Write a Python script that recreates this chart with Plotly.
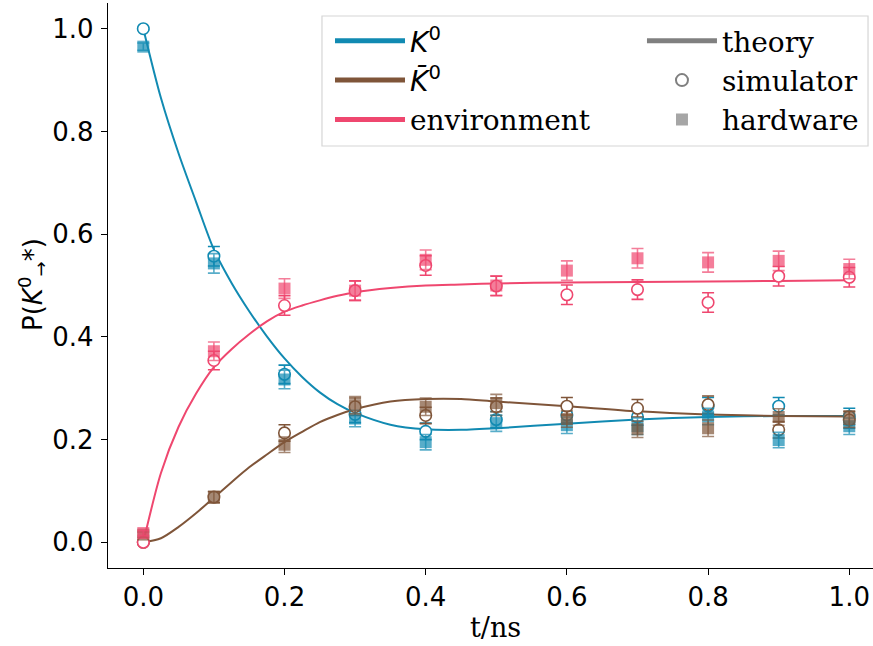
import plotly.graph_objects as go

# ---------------- data ----------------
t_meas = [0.0, 0.1, 0.2, 0.3, 0.4, 0.5, 0.6, 0.7, 0.8, 0.9, 1.0]

sim_k0 = [1.000, 0.557, 0.327, 0.249, 0.216, 0.239, 0.248, 0.244, 0.265, 0.265, 0.245]
sim_k0bar = [0.000, 0.088, 0.213, 0.264, 0.247, 0.264, 0.265, 0.261, 0.268, 0.219, 0.238]
sim_env = [0.000, 0.354, 0.461, 0.490, 0.539, 0.499, 0.482, 0.492, 0.467, 0.518, 0.516]

sim_err_k0 = [0.002, 0.019, 0.018, 0.016, 0.016, 0.016, 0.016, 0.016, 0.017, 0.017, 0.016]
sim_err_k0bar = [0.002, 0.011, 0.016, 0.017, 0.016, 0.017, 0.017, 0.017, 0.017, 0.016, 0.016]
sim_err_env = [0.002, 0.018, 0.019, 0.019, 0.019, 0.019, 0.019, 0.019, 0.019, 0.019, 0.019]

hw_k0 = [0.965, 0.543, 0.317, 0.241, 0.195, 0.232, 0.228, 0.226, 0.245, 0.199, 0.226]
hw_k0bar = [0.015, 0.088, 0.190, 0.267, 0.264, 0.271, 0.240, 0.220, 0.222, 0.244, 0.240]
hw_env = [0.018, 0.372, 0.494, 0.490, 0.550, 0.500, 0.529, 0.553, 0.545, 0.548, 0.532]

hw_err_k0 = [0.007, 0.019, 0.018, 0.016, 0.015, 0.016, 0.016, 0.016, 0.016, 0.015, 0.016]
hw_err_k0bar = [0.005, 0.011, 0.015, 0.017, 0.017, 0.017, 0.016, 0.016, 0.016, 0.016, 0.016]
hw_err_env = [0.005, 0.018, 0.019, 0.019, 0.019, 0.019, 0.019, 0.019, 0.019, 0.019, 0.019]

t_theory = [0.0, 0.025, 0.05, 0.075, 0.1, 0.125, 0.15, 0.175, 0.2, 0.225, 0.25, 0.275,
            0.3, 0.35, 0.4, 0.45, 0.5, 0.6, 0.7, 0.8, 0.9, 1.0]
th_k0 = [1.000, 0.865, 0.757, 0.662, 0.570, 0.505, 0.450, 0.401, 0.358, 0.322, 0.292, 0.269,
         0.252, 0.229, 0.220, 0.219, 0.222, 0.231, 0.239, 0.244, 0.246, 0.246]
th_k0bar = [0.000, 0.008, 0.030, 0.057, 0.087, 0.117, 0.146, 0.171, 0.195, 0.215, 0.234, 0.248,
            0.259, 0.274, 0.279, 0.279, 0.274, 0.265, 0.255, 0.249, 0.246, 0.245]
th_env = [0.000, 0.135, 0.225, 0.290, 0.341, 0.376, 0.405, 0.430, 0.449, 0.461, 0.471, 0.480,
          0.487, 0.495, 0.500, 0.502, 0.504, 0.506, 0.507, 0.508, 0.509, 0.510]

tick_vals = [0.0, 0.2, 0.4, 0.6, 0.8, 1.0]
tick_text = ["0.0", "0.2", "0.4", "0.6", "0.8", "1.0"]

colors = ["#118ab2", "#7f5539", "#ef476f"]
labels_html = [
    '<span style="font-family:DejaVu Sans"><i>K</i><sup>0</sup></span>',
    '<span style="font-family:DejaVu Sans"><i>K\u0304</i><sup>0</sup></span>',
    'environment',
]

# ---------------- figure ----------------
fig = go.Figure()

theory = [th_k0, th_k0bar, th_env]
sims = [sim_k0, sim_k0bar, sim_env]
sim_errs = [sim_err_k0, sim_err_k0bar, sim_err_env]
hws = [hw_k0, hw_k0bar, hw_env]
hw_errs = [hw_err_k0, hw_err_k0bar, hw_err_env]


def rgba(hexc, a):
    h = hexc.lstrip("#")
    return "rgba(%d,%d,%d,%.2f)" % (int(h[0:2], 16), int(h[2:4], 16), int(h[4:6], 16), a)


for i in range(3):
    fig.add_trace(go.Scatter(
        x=t_theory, y=theory[i], mode="lines",
        line=dict(color=colors[i], width=2, shape="spline", smoothing=0.8),
        name=labels_html[i], legend="legend", showlegend=True,
        hoverinfo="skip"))

for i in range(3):
    fig.add_trace(go.Scatter(
        x=t_meas, y=sims[i], mode="markers",
        marker=dict(symbol="circle", size=11.5, color="white",
                    line=dict(color=colors[i], width=1.6)),
        error_y=dict(type="data", array=sim_errs[i], color=colors[i],
                     thickness=1.6, width=6),
        showlegend=False))

for i in range(3):
    fig.add_trace(go.Scatter(
        x=t_meas, y=hws[i], mode="markers",
        marker=dict(symbol="square", size=12, color=rgba(colors[i], 0.7),
                    line=dict(width=0)),
        error_y=dict(type="data", array=hw_errs[i], color=rgba(colors[i], 0.7),
                     thickness=1.6, width=6),
        showlegend=False))

# legend-only entries (second column)
fig.add_trace(go.Scatter(x=[None], y=[None], mode="lines",
                         line=dict(color="#808080", width=2),
                         name="theory", legend="legend2"))
fig.add_trace(go.Scatter(x=[None], y=[None], mode="markers",
                         marker=dict(symbol="circle", size=11, color="white",
                                     line=dict(color="#808080", width=1.6)),
                         name="simulator", legend="legend2"))
fig.add_trace(go.Scatter(x=[None], y=[None], mode="markers",
                         marker=dict(symbol="square", size=12,
                                     color="rgba(128,128,128,0.7)"),
                         name="hardware", legend="legend2"))

legend_common = dict(
    orientation="v", xanchor="left", yanchor="top",
    font=dict(family="DejaVu Serif", size=28, color="black"),
    bgcolor="rgba(0,0,0,0)", borderwidth=0,
    traceorder="normal", itemsizing="constant", itemwidth=70,
)

fig.update_layout(
    width=873, height=646,
    margin=dict(l=108, r=0, t=3, b=78),
    paper_bgcolor="white", plot_bgcolor="white",
    font=dict(family="DejaVu Sans", size=26, color="black"),
    showlegend=True,
    legend=dict(x=0.2902, y=0.977, **legend_common),
    legend2=dict(x=0.698, y=0.977, **legend_common),
    shapes=[dict(type="rect", xref="paper", yref="paper",
                 x0=0.2797, x1=0.9935, y0=0.7469, y1=0.977,
                 line=dict(color="#d6d6d6", width=1.2),
                 fillcolor="rgba(255,255,255,0.8)", layer="above")],
    xaxis=dict(
        range=[-0.05, 1.0336], tickvals=tick_vals, ticktext=tick_text,
        showgrid=False, zeroline=False, showline=True, linecolor="black",
        linewidth=1.3, ticks="outside", ticklen=6, tickwidth=1.3, tickcolor="black",
        tickfont=dict(family="DejaVu Sans", size=26), automargin=False,
    ),
    yaxis=dict(
        range=[-0.05, 1.05], tickvals=tick_vals, ticktext=tick_text,
        showgrid=False, zeroline=False, showline=True, linecolor="black",
        linewidth=1.3, ticks="outside", ticklen=6, tickwidth=1.3, tickcolor="black",
        tickfont=dict(family="DejaVu Sans", size=26), automargin=False,
        ticklabelstandoff=2,
    ),
    annotations=[
        dict(text="t/ns", xref="paper", yref="paper", x=0.507, y=-0.106,
             xanchor="center", yanchor="middle", showarrow=False,
             font=dict(family="DejaVu Serif", size=27, color="black")),
        dict(text="P(<i>K</i><sup>0</sup><sub>\u2192</sub>*)", xref="paper", yref="paper",
             x=-0.098, y=0.501, xanchor="center", yanchor="middle", textangle=-90,
             showarrow=False, font=dict(family="DejaVu Sans", size=26, color="black")),
    ],
)

fig.write_html("out.html",
               config={"displayModeBar": False},
               post_script="document.body.style.margin='0';document.body.style.padding='0';")
